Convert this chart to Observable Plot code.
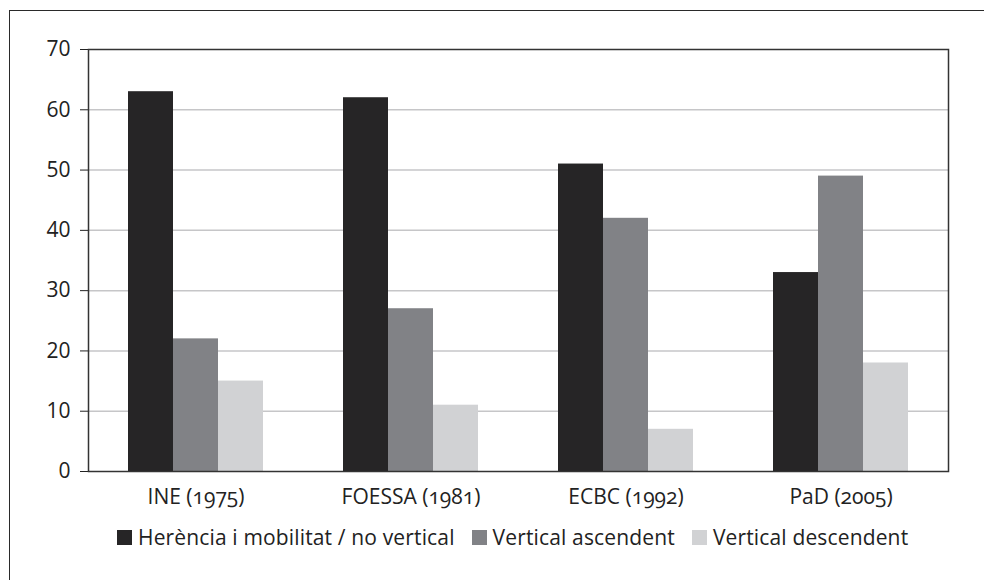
<!DOCTYPE html>
<html>
<head>
<meta charset="utf-8">
<script src="https://cdn.jsdelivr.net/npm/d3@7"></script>
<script src="https://cdn.jsdelivr.net/npm/@observablehq/plot@0.6"></script>
<style>
  html, body { margin: 0; padding: 0; background: #fff; }
  body { width: 984px; height: 580px; position: relative; overflow: hidden;
         font-family: "Open Sans", sans-serif; font-variant-numeric: oldstyle-nums; }
  #frame { position: absolute; left: 9px; top: 10px; width: 990px; height: 600px;
           border-left: 1.5px solid #2a2a2a; border-top: 1.5px solid #2a2a2a; }
  #chart { position: absolute; left: 0; top: 0; }
  #legend { position: absolute; left: 117px; top: 523px; display: flex; align-items: center;
            font-size: 21px; letter-spacing: 0.15px; color: #222; white-space: nowrap; }
  .item { display: flex; align-items: center; margin-right: 17px; }
  .sw { width: 15px; height: 15px; margin-right: 6px; display: inline-block; }
</style>
</head>
<body>
<div id="frame"></div>
<div id="chart"></div>
<div id="legend"></div>
<script>
const categories = ["INE (1975)", "FOESSA (1981)", "ECBC (1992)", "PaD (2005)"];
const seriesNames = ["Herència i mobilitat / no vertical", "Vertical ascendent", "Vertical descendent"];
const herencia = [63, 62, 51, 33];
const ascendent = [22, 27, 42, 49];
const descendent = [15, 11, 7, 18];
const seriesValues = [herencia, ascendent, descendent];
const colors = ["#262526", "#818286", "#d1d2d4"];
const yTicks = [0, 10, 20, 30, 40, 50, 60, 70];
const gridTicks = [10, 20, 30, 40, 50, 60];

const rows = seriesNames.flatMap((s, si) =>
  categories.map((c, ci) => ({category: c, series: s, value: seriesValues[si][ci]})));

const barW = 45; // width of one sub-bar in px (band is 3 bars wide)
const insets = [[0, 2 * barW], [barW, barW], [2 * barW, 0]];

const chart = Plot.plot({
  width: 984,
  height: 515,
  marginLeft: 88,
  marginRight: 36,
  marginTop: 49,
  marginBottom: 44,
  style: {fontSize: "21px", fontFamily: "Open Sans, sans-serif", fontVariantNumeric: "oldstyle-nums", color: "#222", background: "transparent"},
  x: {domain: categories, paddingInner: 0.372, paddingOuter: 0.186, label: null, tickSize: 0, tickPadding: 18},
  y: {domain: [0, 70], ticks: yTicks, label: null, tickSize: 8, tickPadding: 10},
  color: {domain: seriesNames, range: colors},
  marks: [
    Plot.ruleY(gridTicks, {stroke: "#c6c6c8", strokeWidth: 1.5}),
    ...seriesNames.map((s, si) =>
      Plot.barY(rows.filter(d => d.series === s), {
        x: "category", y: "value", fill: "series",
        insetLeft: insets[si][0], insetRight: insets[si][1]
      })),
    Plot.frame({stroke: "#333", strokeWidth: 1.5})
  ]
});
document.getElementById("chart").appendChild(chart);

const legend = document.getElementById("legend");
seriesNames.forEach((s, i) => {
  const item = document.createElement("div");
  item.className = "item";
  const sw = document.createElement("span");
  sw.className = "sw";
  sw.style.background = colors[i];
  const t = document.createElement("span");
  t.textContent = s;
  item.appendChild(sw); item.appendChild(t);
  legend.appendChild(item);
});
</script>
</body>
</html>
